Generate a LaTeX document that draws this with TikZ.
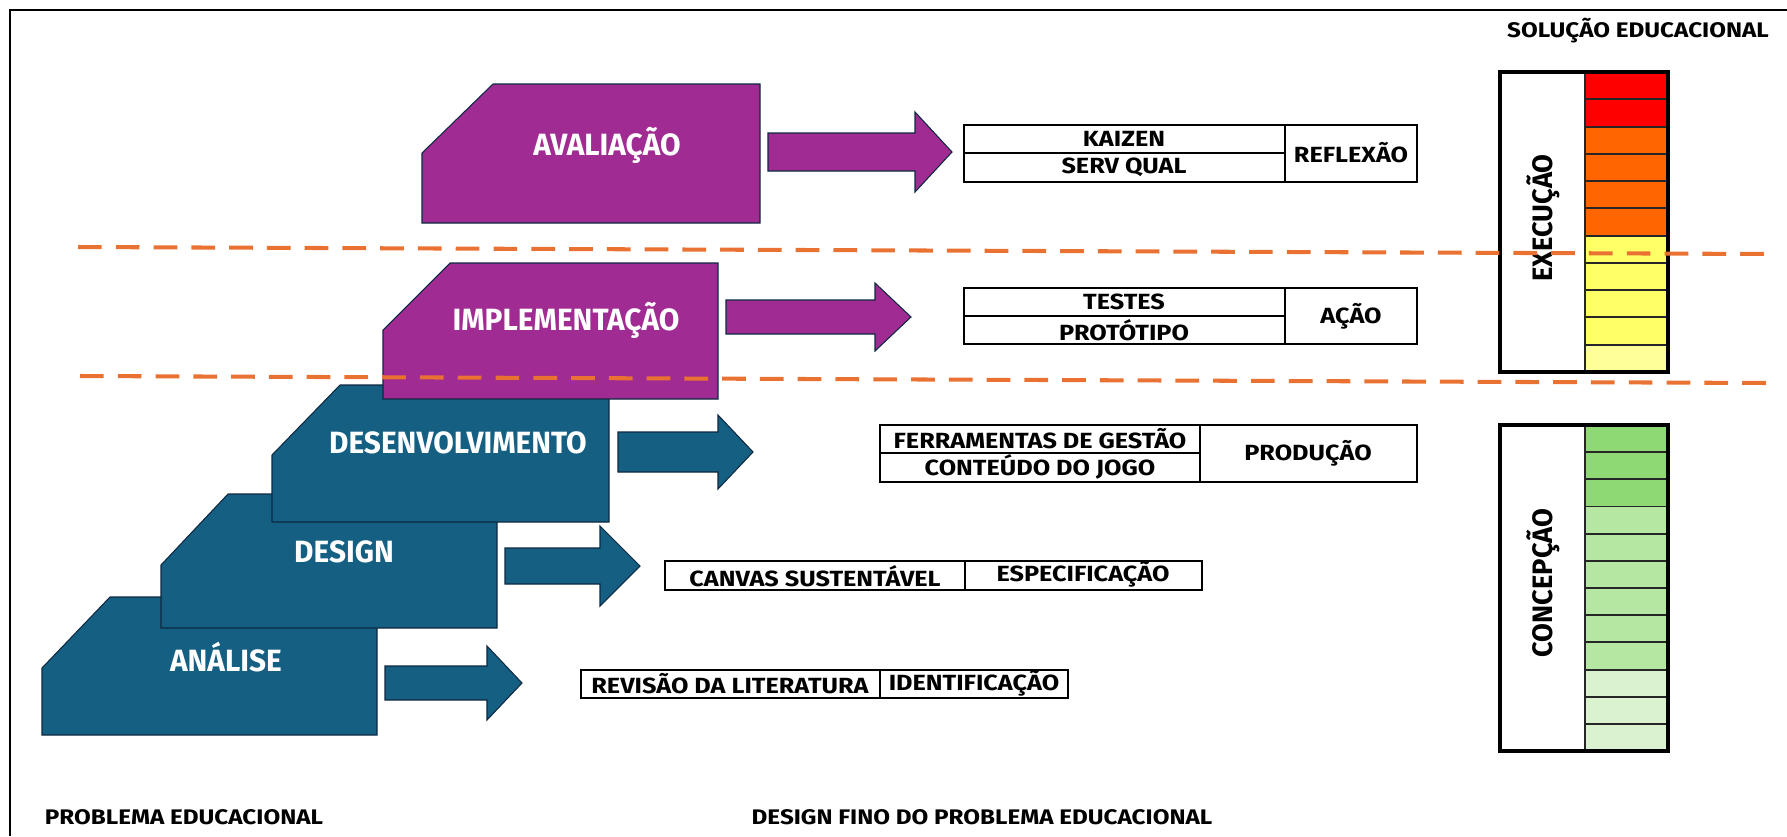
\documentclass[tikz,border=0pt]{standalone}
\usepackage{fontspec}
\setmainfont{Fira Sans}
\newfontfamily\stagefont[FakeStretch=0.97]{Fira Sans}
\newfontfamily\boxfont[FakeStretch=1.15]{Fira Sans}
\definecolor{tealA}{HTML}{156082}
\definecolor{purpA}{HTML}{A02B93}
\definecolor{outl}{HTML}{0E2841}
\definecolor{dashor}{HTML}{E97132}
\definecolor{exred}{HTML}{FF0000}
\definecolor{exorange}{HTML}{FF6600}
\definecolor{exyellow}{HTML}{FFFF66}
\definecolor{exlight}{HTML}{FFFF99}
\definecolor{gA}{HTML}{8ED973}
\definecolor{gB}{HTML}{B5E6A2}
\definecolor{gC}{HTML}{DAF2D0}
\tikzset{
  stageshape/.style={draw=outl, line width=0.6pt, line join=miter},
  stagelabel/.style={text=white, inner sep=0pt, font=\stagefont\bfseries\fontsize{17.5}{18}\selectfont},
  tbox/.style={draw=black, line width=1.6pt},
  tline/.style={draw=black, line width=1.2pt},
  tlabel/.style={inner sep=0pt, font=\boxfont\bfseries\fontsize{12.5}{13}\selectfont},
  sidelabel/.style={inner sep=0pt, rotate=90, font=\stagefont\bfseries\fontsize{16}{17}\selectfont},
  cornerlabel/.style={inner sep=0pt, font=\boxfont\bfseries\fontsize{12}{13}\selectfont},
  phaseline/.style={draw=dashor, line width=2.3pt, dash pattern=on 13.5pt off 8pt},
  cellline/.style={draw=black!85, line width=1.1pt},
  framebox/.style={draw=black, line width=2.2pt}
}
\newcommand{\blockarrow}[7]{% fill, x0, x1, x2, yc, h1, h2
  \draw[stageshape, fill=#1] (#2,{#5-#6}) -- (#3,{#5-#6}) -- (#3,{#5-#7}) -- (#4,#5)
    -- (#3,{#5+#7}) -- (#3,{#5+#6}) -- (#2,{#5+#6}) -- cycle;}
\begin{document}
\begin{tikzpicture}[x=0.02cm,y=-0.02cm]
\useasboundingbox (0,0) rectangle (1787,836);
\draw[line width=1.4pt] (10,836) -- (10,10) -- (1787,10);

% stages
\draw[stageshape, fill=tealA] (42,735) -- (377,735) -- (377,597) -- (110,597) -- (42,668) -- cycle;
\node[stagelabel] (analise) at (226,657) {ANÁLISE};
\draw[stageshape, fill=tealA] (161,628) -- (497,628) -- (497,494) -- (228,494) -- (161,565) -- cycle;
\node[stagelabel] (design) at (344,552) {DESIGN};
\draw[stageshape, fill=tealA] (272,522) -- (609,522) -- (609,385) -- (340,385) -- (272,455) -- cycle;
\node[stagelabel] (desenv) at (458,443) {DESENVOLVIMENTO};
\draw[stageshape, fill=purpA] (383,399) -- (718,399) -- (718,263) -- (450,263) -- (383,330) -- cycle;
\node[stagelabel] (implem) at (566,320) {IMPLEMENTAÇÃO};
\draw[stageshape, fill=purpA] (422,223) -- (760,223) -- (760,84) -- (493,84) -- (422,153) -- cycle;
\node[stagelabel] (avalia) at (607,145) {AVALIAÇÃO};

% block arrows
\blockarrow{purpA}{768}{915}{952}{152}{19}{40}
\blockarrow{purpA}{726}{875}{911}{317}{17}{34}
\blockarrow{tealA}{618}{718}{753}{452}{20}{37}
\blockarrow{tealA}{505}{600}{640}{566}{18}{40}
\blockarrow{tealA}{385}{487}{522}{683}{17}{37}

% text boxes
\draw[tbox] (964,125) rectangle (1417,182);
\draw[tline] (1285,125) -- (1285,182) (964,153) -- (1285,153);
\node[tlabel] (kaizen) at (1124,139) {KAIZEN};
\node[tlabel] (servqual) at (1124,167) {SERV QUAL};
\node[tlabel] (reflexao) at (1351,153) {REFLEXÃO};

\draw[tbox] (964,288) rectangle (1417,344);
\draw[tline] (1285,288) -- (1285,344) (964,316) -- (1285,316);
\node[tlabel] (testes) at (1124,302) {TESTES};
\node[tlabel] (prototipo) at (1124,330) {PROTÓTIPO};
\node[tlabel] (acao) at (1351,316) {AÇÃO};

\draw[tbox] (880,425) rectangle (1417,482);
\draw[tline] (1200,425) -- (1200,482) (880,453) -- (1200,453);
\node[tlabel] (ferram) at (1040,439) {FERRAMENTAS DE GESTÃO};
\node[tlabel] (conteudo) at (1040,467) {CONTEÚDO DO JOGO};
\node[tlabel] (producao) at (1308,453) {PRODUÇÃO};

\draw[tbox] (665,561) rectangle (1202,590);
\draw[tline] (965,561) -- (965,590);
\node[tlabel] (canvas) at (815,576) {CANVAS SUSTENTÁVEL};
\node[tlabel] (especif) at (1083,574) {ESPECIFICAÇÃO};

\draw[tbox] (581,670) rectangle (1068,698);
\draw[tline] (880,670) -- (880,698);
\node[tlabel] (revisao) at (730,684) {REVISÃO DA LITERATURA};
\node[tlabel] (identif) at (974,683) {IDENTIFICAÇÃO};

% execucao column
\foreach \i/\c in {0/exred,1/exred,2/exorange,3/exorange,4/exorange,5/exorange,6/exyellow,7/exyellow,8/exyellow,9/exyellow,10/exlight}{
  \fill[\c] (1585,{72+\i*27.27}) rectangle (1668,{72+(\i+1)*27.27});
  \draw[cellline] (1585,{72+\i*27.27}) -- (1668,{72+\i*27.27});
}
\draw[cellline] (1585,72) -- (1585,372);
\draw[framebox] (1500,72) rectangle (1668,372);
\node[sidelabel] (execucao) at (1543,218) {EXECUÇÃO};

% concepcao column
\foreach \i/\c in {0/gA,1/gA,2/gA,3/gB,4/gB,5/gB,6/gB,7/gB,8/gB,9/gC,10/gC,11/gC}{
  \fill[\c] (1585,{425+\i*27.17}) rectangle (1668,{425+(\i+1)*27.17});
  \draw[cellline] (1585,{425+\i*27.17}) -- (1668,{425+\i*27.17});
}
\draw[cellline] (1585,425) -- (1585,751);
\draw[framebox] (1500,425) rectangle (1668,751);
\node[sidelabel] (concepcao) at (1543,583) {CONCEPÇÃO};

% corner labels
\node[cornerlabel] (solucao) at (1638,31) {SOLUÇÃO EDUCACIONAL};
\node[cornerlabel] (problema) at (184,817) {PROBLEMA EDUCACIONAL};
\node[cornerlabel] (designfino) at (982,817) {DESIGN FINO DO PROBLEMA EDUCACIONAL};

% phase separators
\draw[phaseline] (78,247) -- (1770,254);
\draw[phaseline] (80,376) -- (1770,383);
\end{tikzpicture}
\end{document}
